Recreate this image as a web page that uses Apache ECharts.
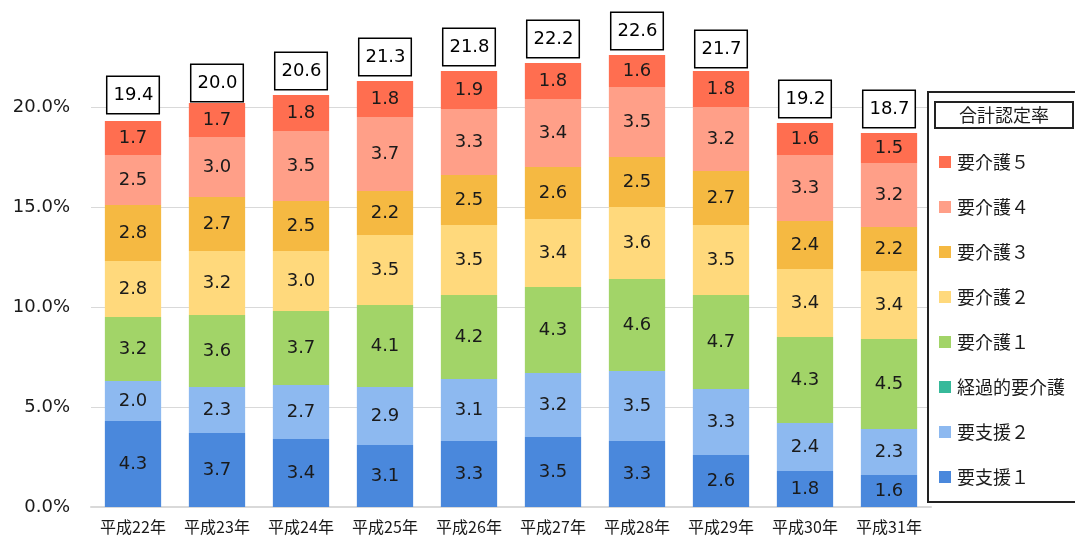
<!DOCTYPE html>
<html>
<head>
<meta charset="utf-8">
<script src="https://cdn.jsdelivr.net/npm/echarts@6/dist/echarts.min.js"></script>
<style>
  html, body { margin: 0; padding: 0; background: #fff; }
  #chart { width: 1075px; height: 540px; }
</style>
</head>
<body>
<div id="chart"></div>
<script>
// 認定率の推移（要介護度別、%）
const years = ['平成22年', '平成23年', '平成24年', '平成25年', '平成26年', '平成27年', '平成28年', '平成29年', '平成30年', '平成31年'];

const shien1  = [4.3, 3.7, 3.4, 3.1, 3.3, 3.5, 3.3, 2.6, 1.8, 1.6];
const shien2  = [2.0, 2.3, 2.7, 2.9, 3.1, 3.2, 3.5, 3.3, 2.4, 2.3];
const keikateki = [];
const kaigo1  = [3.2, 3.6, 3.7, 4.1, 4.2, 4.3, 4.6, 4.7, 4.3, 4.5];
const kaigo2  = [2.8, 3.2, 3.0, 3.5, 3.5, 3.4, 3.6, 3.5, 3.4, 3.4];
const kaigo3  = [2.8, 2.7, 2.5, 2.2, 2.5, 2.6, 2.5, 2.7, 2.4, 2.2];
const kaigo4  = [2.5, 3.0, 3.5, 3.7, 3.3, 3.4, 3.5, 3.2, 3.3, 3.2];
const kaigo5  = [1.7, 1.7, 1.8, 1.8, 1.9, 1.8, 1.6, 1.8, 1.6, 1.5];
const totals  = [19.4, 20.0, 20.6, 21.3, 21.8, 22.2, 22.6, 21.7, 19.2, 18.7];

const yTicks = [0, 5, 10, 15, 20];

const NUM_FONT = '"DejaVu Sans", Verdana, sans-serif';
const JP_FONT = '"Noto Sans CJK JP", "DejaVu Sans", sans-serif';

function barSeries(name, data, color) {
  return {
    name: name,
    type: 'bar',
    stack: 'rate',
    data: data,
    barCategoryGap: '33%',
    clip: false,
    itemStyle: { color: color },
    label: {
      show: true,
      position: 'inside',
      fontFamily: NUM_FONT,
      fontSize: 18,
      color: '#1a1a1a',
      formatter: p => p.value.toFixed(1)
    }
  };
}

const chart = echarts.init(document.getElementById('chart'), null, { renderer: 'canvas' });

chart.setOption({
  animation: false,
  backgroundColor: '#ffffff',
  grid: { left: 91, right: 144, top: 107, bottom: 33, containLabel: false },
  xAxis: {
    type: 'category',
    data: years,
    axisLine: { show: true, lineStyle: { color: '#d9d9d9', width: 2 } },
    axisTick: { show: false },
    axisLabel: { interval: 0, fontFamily: JP_FONT, fontSize: 16, color: '#1a1a1a', margin: 12 }
  },
  yAxis: {
    type: 'value',
    min: yTicks[0],
    max: yTicks[yTicks.length - 1],
    interval: 5,
    axisLine: { show: false },
    axisTick: { show: false },
    splitLine: { lineStyle: { color: '#d9d9d9', width: 1 } },
    axisLabel: {
      fontFamily: NUM_FONT,
      fontSize: 18,
      color: '#1a1a1a',
      margin: 21,
      formatter: v => v.toFixed(1) + '%'
    }
  },
  legend: {
    orient: 'vertical',
    left: 939,
    top: 152,
    padding: 0,
    itemWidth: 12,
    itemHeight: 12,
    itemGap: 25,
    icon: 'rect',
    z: 6,
    textStyle: { fontFamily: JP_FONT, fontSize: 18, color: '#1a1a1a', lineHeight: 20, padding: [0, 0, 0, 1] },
    data: ['要介護５', '要介護４', '要介護３', '要介護２', '要介護１', '経過的要介護', '要支援２', '要支援１']
  },
  graphic: [
    {
      type: 'rect',
      z: 4,
      shape: { x: 928, y: 92, width: 200, height: 410 },
      style: { fill: '#ffffff', stroke: '#222222', lineWidth: 2 }
    },
    {
      type: 'rect',
      z: 5,
      shape: { x: 935, y: 102, width: 138, height: 26 },
      style: { fill: '#ffffff', stroke: '#222222', lineWidth: 2 }
    },
    {
      type: 'text',
      z: 6,
      x: 1004,
      y: 115,
      style: {
        text: '合計認定率',
        fontFamily: JP_FONT,
        fontSize: 18,
        fill: '#1a1a1a',
        align: 'center',
        verticalAlign: 'middle'
      }
    }
  ],
  series: [
    barSeries('要支援１', shien1, '#4a88dc'),
    barSeries('要支援２', shien2, '#8db9f0'),
    barSeries('経過的要介護', keikateki, '#36b99a'),
    barSeries('要介護１', kaigo1, '#a2d468'),
    barSeries('要介護２', kaigo2, '#ffd97c'),
    barSeries('要介護３', kaigo3, '#f5b942'),
    barSeries('要介護４', kaigo4, '#ff9f88'),
    barSeries('要介護５', kaigo5, '#ff6e50'),
    {
      name: '合計認定率',
      type: 'scatter',
      data: totals,
      symbolSize: 0,
      itemStyle: { color: 'transparent', opacity: 1 },
      clip: false,
      silent: true,
      z: 5,
      label: {
        show: true,
        position: 'top',
        distance: 6,
        opacity: 1,
        fontFamily: NUM_FONT,
        fontSize: 18,
        lineHeight: 20,
        color: '#000000',
        backgroundColor: '#ffffff',
        borderColor: '#000000',
        borderWidth: 1.5,
        padding: [8, 5, 8, 6],
        formatter: p => p.value.toFixed(1)
      }
    }
  ]
});
</script>
</body>
</html>
